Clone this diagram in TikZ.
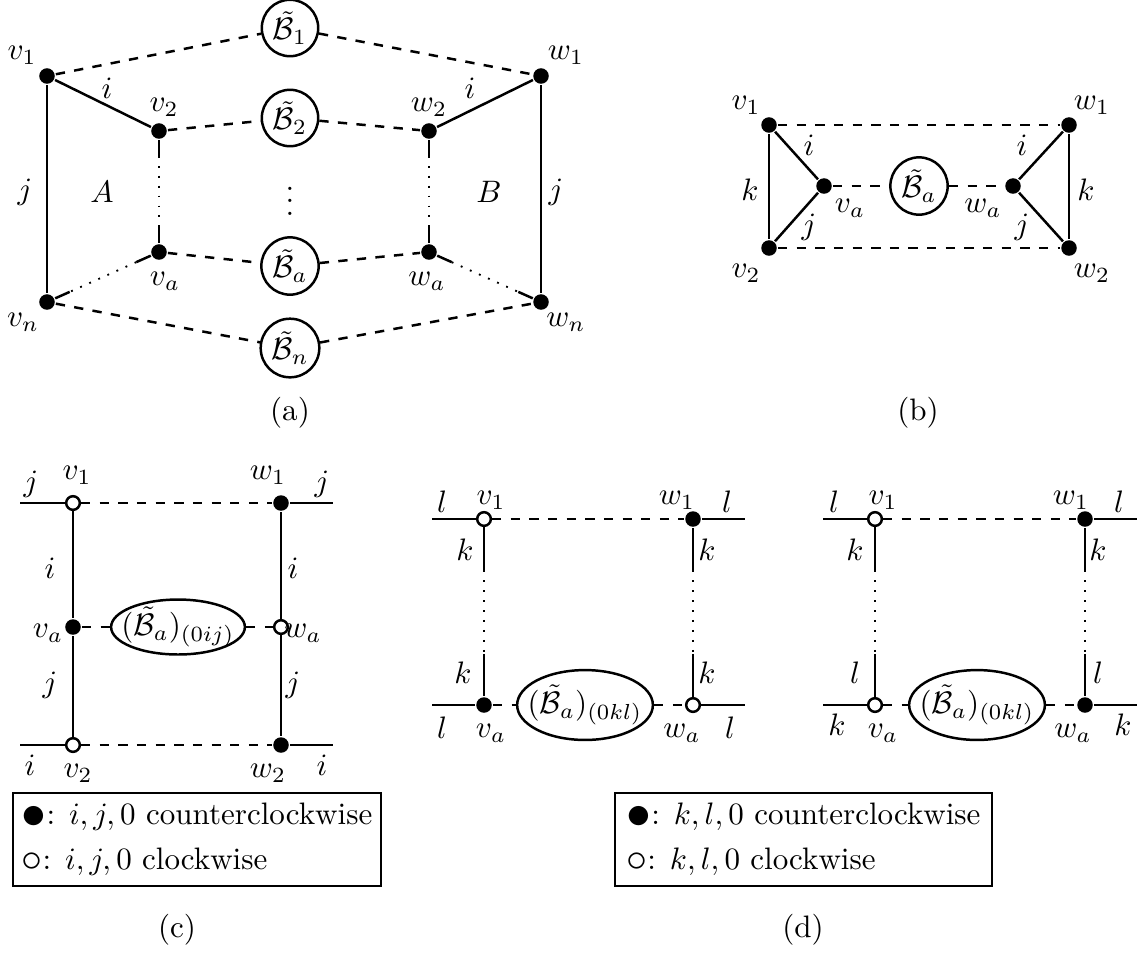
\documentclass[tikz,border=0pt]{standalone}
\usepackage{amsmath}
\usepackage{amssymb}
\usepackage{graphicx}
\usetikzlibrary{calc,shapes.geometric}

\newcommand{\fmark}{\raisebox{-1.3pt}{\scalebox{1.6}{$\bullet$}}}
\newcommand{\omark}{\raisebox{-0.4pt}{\scalebox{1.35}{$\circ$}}}

\begin{document}
\begin{tikzpicture}[x=0.322pt,y=-0.322pt,line width=0.8pt,
	fdot/.style={circle,fill,inner sep=0,minimum size=5pt},
	odot/.style={circle,draw,fill=white,inner sep=0,minimum size=4.4pt},
	bubble/.style={circle,draw,inner sep=1pt,minimum size=16.7pt},
	blob/.style={ellipse,draw,inner sep=-3pt,minimum width=40.6pt},
	legend/.style={draw,line width=0.5pt,align=left,inner xsep=2pt,minimum height=27.4pt},
	dotline/.style={line width=0.6pt,dash pattern=on 0.6pt off 2.6pt}]
	\useasboundingbox (0,0) rectangle (1139,957);

	% (a)
	\node[fdot] (av1) at (47,76) {};
	\node[fdot] (av2) at (159,131) {};
	\node[fdot] (ava) at (159,252) {};
	\node[fdot] (avn) at (47,302) {};
	\node[fdot] (aw1) at (541,76) {};
	\node[fdot] (aw2) at (429,131) {};
	\node[fdot] (awa) at (429,252) {};
	\node[fdot] (awn) at (541,302) {};
	\node[bubble] (aB1) at (290,28) {$\tilde{\mathcal{B}}_1$};
	\node[bubble] (aB2) at (290,118) {$\tilde{\mathcal{B}}_2$};
	\node[bubble] (aBa) at (290,266) {$\tilde{\mathcal{B}}_a$};
	\node[bubble] (aBn) at (290,348) {$\tilde{\mathcal{B}}_n$};
	\draw[dashed] (av1) -- (aB1);
	\draw[dashed] (aB1) -- (aw1);
	\draw[dashed] (av2) -- (aB2);
	\draw[dashed] (aB2) -- (aw2);
	\draw[dashed] (ava) -- (aBa);
	\draw[dashed] (aBa) -- (awa);
	\draw[dashed] (avn) -- (aBn);
	\draw[dashed] (aBn) -- (awn);
	\draw (av1) -- (av2);
	\draw (aw1) -- (aw2);
	\draw (av1) -- (avn);
	\draw (aw1) -- (awn);
	\node (lav1) at (22,55) {$v_1$};
	\node (lai) at (107,88) {$i$};
	\node (lav2) at (164,107) {$v_2$};
	\node (law2) at (429,107) {$w_2$};
	\node (laiw) at (470,88) {$i$};
	\node (law1) at (566,55) {$w_1$};
	\node (laj) at (25,192) {$j$};
	\node (laA) at (102,192) {$A$};
	\node (ladots) at (290,192) {$\vdots$};
	\node (laB) at (489,192) {$B$};
	\node (lajw) at (556,192) {$j$};
	\node (lava) at (165,281) {$v_a$};
	\node (lawa) at (427,281) {$w_a$};
	\node (lavn) at (23,322) {$v_n$};
	\node (lawn) at (566,322) {$w_n$};
	\node (capa) at (290,413) {(a)};

	% (b)
	\node[fdot] (bv1) at (769,125) {};
	\node[fdot] (bv2) at (769,248) {};
	\node[fdot] (bva) at (824,186) {};
	\node[fdot] (bw1) at (1069,125) {};
	\node[fdot] (bw2) at (1069,248) {};
	\node[fdot] (bwa) at (1013,186) {};
	\node[bubble] (bBa) at (919,186) {$\tilde{\mathcal{B}}_a$};
	\draw[dashed] (bv1) -- (bw1);
	\draw[dashed] (bv2) -- (bw2);
	\draw[dashed] (bva) -- (bBa);
	\draw[dashed] (bBa) -- (bwa);
	\draw (bv1) -- (bv2);
	\draw (bv1) -- (bva);
	\draw (bva) -- (bv2);
	\draw (bw1) -- (bw2);
	\draw (bw1) -- (bwa);
	\draw (bwa) -- (bw2);
	\node (lbv1) at (746,105) {$v_1$};
	\node (lbw1) at (1092,105) {$w_1$};
	\node (lbk) at (750,190) {$k$};
	\node (lbi) at (809,145) {$i$};
	\node (lbj) at (809,227) {$j$};
	\node (lbva) at (850,208) {$v_a$};
	\node (lbwa) at (983,208) {$w_a$};
	\node (lbiw) at (1022,145) {$i$};
	\node (lbjw) at (1022,227) {$j$};
	\node (lbkw) at (1086,190) {$k$};
	\node (lbv2) at (746,273) {$v_2$};
	\node (lbw2) at (1092,273) {$w_2$};
	\node (capb) at (918,413) {(b)};

	% (c)
	\coordinate (cl1) at (20,503);
	\coordinate (cr1) at (333,503);
	\coordinate (cl2) at (20,745);
	\coordinate (cr2) at (333,745);
	\node[odot] (cv1) at (73,503) {};
	\node[fdot] (cva) at (73,627) {};
	\node[odot] (cv2) at (73,745) {};
	\node[fdot] (cw1) at (281,503) {};
	\node[odot] (cwa) at (281,627) {};
	\node[fdot] (cw2) at (281,745) {};
	\node[blob,minimum height=17.7pt] (cB) at (178,627) {$(\tilde{\mathcal{B}}_a)_{(0ij)}$};
	\draw (cl1) -- (cv1);
	\draw[dashed] (cv1) -- (cw1);
	\draw (cw1) -- (cr1);
	\draw (cl2) -- (cv2);
	\draw[dashed] (cv2) -- (cw2);
	\draw (cw2) -- (cr2);
	\draw (cv1) -- (cva);
	\draw (cva) -- (cv2);
	\draw (cw1) -- (cwa);
	\draw (cwa) -- (cw2);
	\draw[dashed] (cva) -- (cB);
	\draw[dashed] (cB) -- (cwa);
	\node (lcj) at (31,484) {$j$};
	\node (lcv1) at (77,475) {$v_1$};
	\node (lcw1) at (268,475) {$w_1$};
	\node (lcjr) at (322,484) {$j$};
	\node (lci) at (50,568) {$i$};
	\node (lcj2) at (50,685) {$j$};
	\node (lciw) at (293,568) {$i$};
	\node (lcjw) at (293,685) {$j$};
	\node (lcva) at (48,633) {$v_a$};
	\node (lcwa) at (303,633) {$w_a$};
	\node (lci2) at (30,765) {$i$};
	\node (lcv2) at (78,773) {$v_2$};
	\node (lcw2) at (268,773) {$w_2$};
	\node (lcir) at (322,765) {$i$};
	\node[legend,minimum width=118.5pt] (cleg) at (197,839.5)
		{\fmark: $i, j, 0$ counterclockwise\\[2.5pt]\omark: $i, j, 0$ clockwise};
	\node (capc) at (177,930) {(c)};

	% (d), left
	\coordinate (dl1) at (432,519);
	\coordinate (dr1) at (745,519);
	\coordinate (dl2) at (432,705);
	\coordinate (dr2) at (745,705);
	\node[odot] (dv1) at (484,519) {};
	\node[fdot] (dw1) at (693,519) {};
	\node[fdot] (dva) at (484,705) {};
	\node[odot] (dwa) at (693,705) {};
	\node[blob,minimum height=22.5pt] (dB) at (585,705) {$(\tilde{\mathcal{B}}_a)_{(0kl)}$};
	\draw (dl1) -- (dv1);
	\draw[dashed] (dv1) -- (dw1);
	\draw (dw1) -- (dr1);
	\draw (dl2) -- (dva);
	\draw[dashed] (dva) -- (dB);
	\draw[dashed] (dB) -- (dwa);
	\draw (dwa) -- (dr2);
	\node (ldl) at (442,502) {$l$};
	\node (ldv1) at (491,500) {$v_1$};
	\node (ldw1) at (677,500) {$w_1$};
	\node (ldlr) at (727,502) {$l$};
	\node (ldk) at (465,550) {$k$};
	\node (ldkw) at (707,550) {$k$};
	\node (ldk2) at (463,673) {$k$};
	\node (ldkw2) at (707,673) {$k$};
	\node (ldl2) at (442,728) {$l$};
	\node (ldva) at (491,733) {$v_a$};
	\node (ldwa) at (682,733) {$w_a$};
	\node (ldlr2) at (730,728) {$l$};

	% (d), right
	\coordinate (el1) at (823,519);
	\coordinate (er1) at (1137,519);
	\coordinate (el2) at (823,705);
	\coordinate (er2) at (1137,705);
	\node[odot] (ev1) at (875,519) {};
	\node[fdot] (ew1) at (1085,519) {};
	\node[odot] (eva) at (875,705) {};
	\node[fdot] (ewa) at (1085,705) {};
	\node[blob,minimum height=22.5pt] (eB) at (977,705) {$(\tilde{\mathcal{B}}_a)_{(0kl)}$};
	\draw (el1) -- (ev1);
	\draw[dashed] (ev1) -- (ew1);
	\draw (ew1) -- (er1);
	\draw (el2) -- (eva);
	\draw[dashed] (eva) -- (eB);
	\draw[dashed] (eB) -- (ewa);
	\draw (ewa) -- (er2);
	\node (lel) at (834,502) {$l$};
	\node (lev1) at (883,500) {$v_1$};
	\node (lew1) at (1071,500) {$w_1$};
	\node (lelr) at (1119,502) {$l$};
	\node (lek) at (855,550) {$k$};
	\node (lekw) at (1098,550) {$k$};
	\node (lel2) at (855,673) {$l$};
	\node (lelw2) at (1098,673) {$l$};
	\node (lek2) at (837,725) {$k$};
	\node (leva) at (883,733) {$v_a$};
	\node (lewa) at (1073,733) {$w_a$};
	\node (lekr2) at (1123,725) {$k$};

	\node[legend,minimum width=121.4pt] (dleg) at (803.5,839.5)
		{\fmark: $k, l, 0$ counterclockwise\\[2.5pt]\omark: $k, l, 0$ clockwise};
	\node (capd) at (803,930) {(d)};

	% solid ends, dotted middle
	\foreach \p/\q/\s in {av2/ava/8pt, aw2/awa/8pt, ava/avn/8pt, awa/awn/8pt,
		dv1/dva/16.5pt, dw1/dwa/16.5pt, ev1/eva/16.5pt, ew1/ewa/16.5pt}{
		\draw (\p) -- ($(\p)!\s!(\q)$);
		\draw[dotline] ($(\p)!\s!(\q)$) -- ($(\q)!\s!(\p)$);
		\draw ($(\q)!\s!(\p)$) -- (\q);
	}
\end{tikzpicture}
\end{document}
